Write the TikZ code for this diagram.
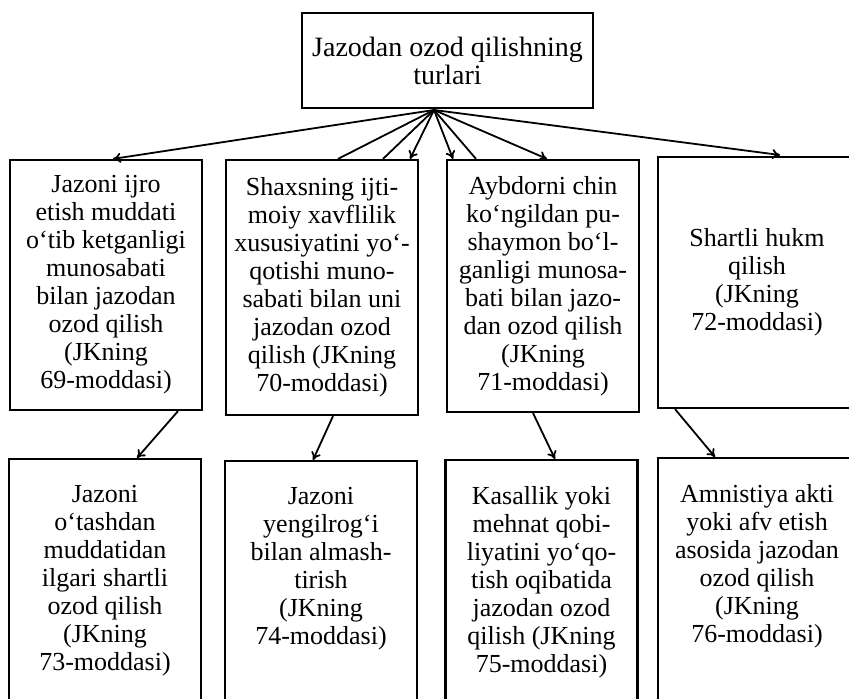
\documentclass[tikz,border=0pt]{standalone}
\usepackage{fontspec}
\setmainfont{Liberation Serif}
\usetikzlibrary{arrows.meta}

\newcommand{\lowtext}[2][96pt]{\parbox[t][120pt][t]{#1}{\centering\fontsize{13}{14}\selectfont #2}}

\tikzset{
  box/.style={draw, line width=1.1pt, inner sep=0pt, align=center, minimum width=96pt,
    font=\fontsize{13}{14}\selectfont},
  lowbox/.style={draw, line width=1.1pt, anchor=north, inner xsep=0pt, inner ysep=13pt},
  fan/.style={line width=0.9pt},
  arr/.style={line width=0.9pt, -{To[length=4pt,width=5pt]}},
}

\begin{document}
\begin{tikzpicture}[x=0.5pt, y=-0.5pt]

  \clip (0,0) rectangle (849,699);

  % Vertex
  \node[box, minimum width=145.5pt, minimum height=47.5pt, font=\fontsize{14}{14}\selectfont]
    (top) at (447.5,60.5) {Jazodan ozod qilishning\\ turlari};
  \coordinate (hub) at (434,110);

  % First row
  \node[box, minimum height=125pt] (b1) at (106,285)
    {Jazoni ijro\\ etish muddati\\ o‘tib ketganligi\\ munosabati\\ bilan jazodan\\ ozod qilish\\ (JKning\\ 69-moddasi)};
  \node[box, minimum height=127.5pt] (b2) at (322,287.5)
    {Shaxsning ijti-\\ moiy xavflilik\\ xususiyatini yo‘-\\ qotishi muno-\\ sabati bilan uni\\ jazodan ozod\\ qilish (JKning\\ 70-moddasi)};
  \node[box, minimum height=126pt] (b3) at (543,286)
    {Aybdorni chin\\ ko‘ngildan pu-\\ shaymon bo‘l-\\ ganligi munosa-\\ bati bilan jazo-\\ dan ozod qilish\\ (JKning\\ 71-moddasi)};
  \node[box, minimum width=99pt, minimum height=125.5pt] (b4) at (757,282.5)
    {Shartli hukm\\ qilish\\ (JKning\\ 72-moddasi)};

  % Second row
  \node[lowbox] (b5) at (105,458)
    {\lowtext{Jazoni\\ o‘tashdan\\ muddatidan\\ ilgari shartli\\ ozod qilish\\ (JKning\\ 73-moddasi)}};
  \node[lowbox] (b6) at (321,460)
    {\lowtext{Jazoni\\ yengilrog‘i\\ bilan almash-\\ tirish\\ (JKning\\ 74-moddasi)}};
  \node[lowbox] (b7) at (541.5,459)
    {\lowtext{Kasallik yoki\\ mehnat qobi-\\ liyatini yo‘qo-\\ tish oqibatida\\ jazodan ozod\\ qilish (JKning\\ 75-moddasi)}};
  \node[lowbox] (b8) at (757,457)
    {\lowtext[99pt]{Amnistiya akti\\ yoki afv etish\\ asosida jazodan\\ ozod qilish\\ (JKning\\ 76-moddasi)}};

  % Fan from the vertex
  \draw[arr] (hub) -- (113,0 |- b1.north);
  \draw[fan] (hub) -- (338,0 |- b2.north);
  \draw[fan] (hub) -- (383,0 |- b2.north);
  \draw[arr] (hub) -- (410,0 |- b2.north);
  \draw[arr] (hub) -- (453,0 |- b3.north);
  \draw[fan] (hub) -- (476,0 |- b3.north);
  \draw[arr] (hub) -- (547,0 |- b3.north);
  \draw[arr] (hub) -- (780,155);

  % Between the rows
  \draw[arr] (178,0 |- b1.south) -- (137,0 |- b5.north);
  \draw[arr] (333,0 |- b2.south) -- (313,0 |- b6.north);
  \draw[arr] (533,0 |- b3.south) -- (555,0 |- b7.north);
  \draw[arr] (675,0 |- b4.south) -- (715,0 |- b8.north);

\end{tikzpicture}
\end{document}
